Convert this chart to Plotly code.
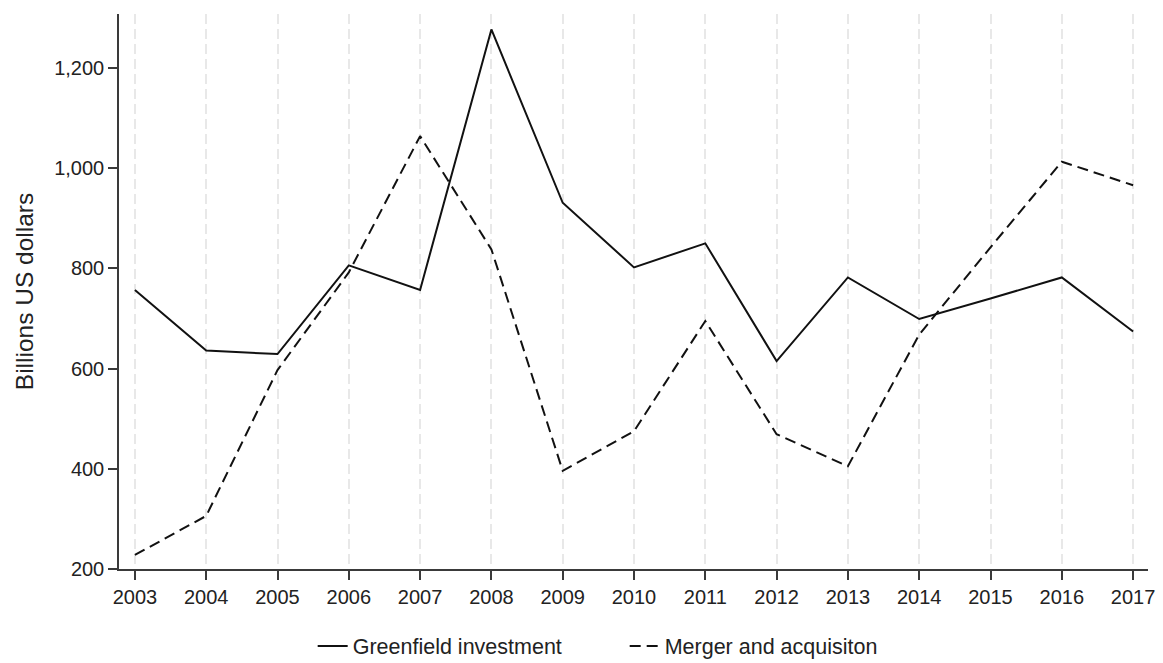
import plotly.graph_objects as go

years = list(range(2003, 2018))
greenfield = [757, 636, 629, 806, 757, 1277, 931, 802, 850, 615, 782, 699, 740, 782, 674]
merger = [228, 306, 597, 792, 1064, 838, 396, 475, 695, 469, 405, 668, 842, 1013, 966]
y_ticks = [200, 400, 600, 800, 1000, 1200]
y_tick_labels = ["200", "400", "600", "800", "1,000", "1,200"]

FONT = "Liberation Sans, Arial, sans-serif"
TXT = "#222222"

fig = go.Figure()
fig.add_trace(go.Scatter(
    x=years, y=greenfield, mode="lines", name="Greenfield investment",
    line=dict(color="#111111", width=2)))
fig.add_trace(go.Scatter(
    x=years, y=merger, mode="lines", name="Merger and acquisiton",
    line=dict(color="#111111", width=2, dash="11px,6px")))

fig.update_layout(
    width=1163, height=663,
    margin=dict(l=119, r=8, t=14, b=94),
    paper_bgcolor="white", plot_bgcolor="white",
    font=dict(family=FONT, color=TXT, size=20),
    showlegend=True,
    legend=dict(orientation="h", x=(289 - 119 + 25) / 1036.0, xanchor="left", xref="paper",
                y=(663 - 646) / 663.0, yanchor="middle", yref="container",
                font=dict(size=21.5, color=TXT), entrywidth=267, entrywidthmode="pixels",
                bgcolor="rgba(0,0,0,0)"),
)

fig.update_xaxes(
    range=[2002.777, 2017.209], tickmode="array", tickvals=years,
    ticktext=[str(y) for y in years],
    showline=True, linecolor="#3a3a3a", linewidth=1.5,
    ticks="outside", ticklen=9, tickwidth=1.5, tickcolor="#3a3a3a",
    tickfont=dict(size=20, color=TXT),
    showgrid=True, gridcolor="#e8e8e8", gridwidth=2, griddash="10px,5px",
    zeroline=False, mirror=False,
)
fig.update_yaxes(
    range=[200, 1307.8], tickmode="array", tickvals=y_ticks, ticktext=y_tick_labels,
    showline=True, linecolor="#3a3a3a", linewidth=1.5,
    ticks="outside", ticklen=9, tickwidth=1.5, tickcolor="#3a3a3a",
    tickfont=dict(size=20, color=TXT),
    showgrid=False, zeroline=False,
    title=dict(text="Billions US dollars", font=dict(size=24.5, color=TXT), standoff=14),
)

fig.write_html("out.html", config={"displayModeBar": False},
               post_script="document.body.style.margin='0';")
